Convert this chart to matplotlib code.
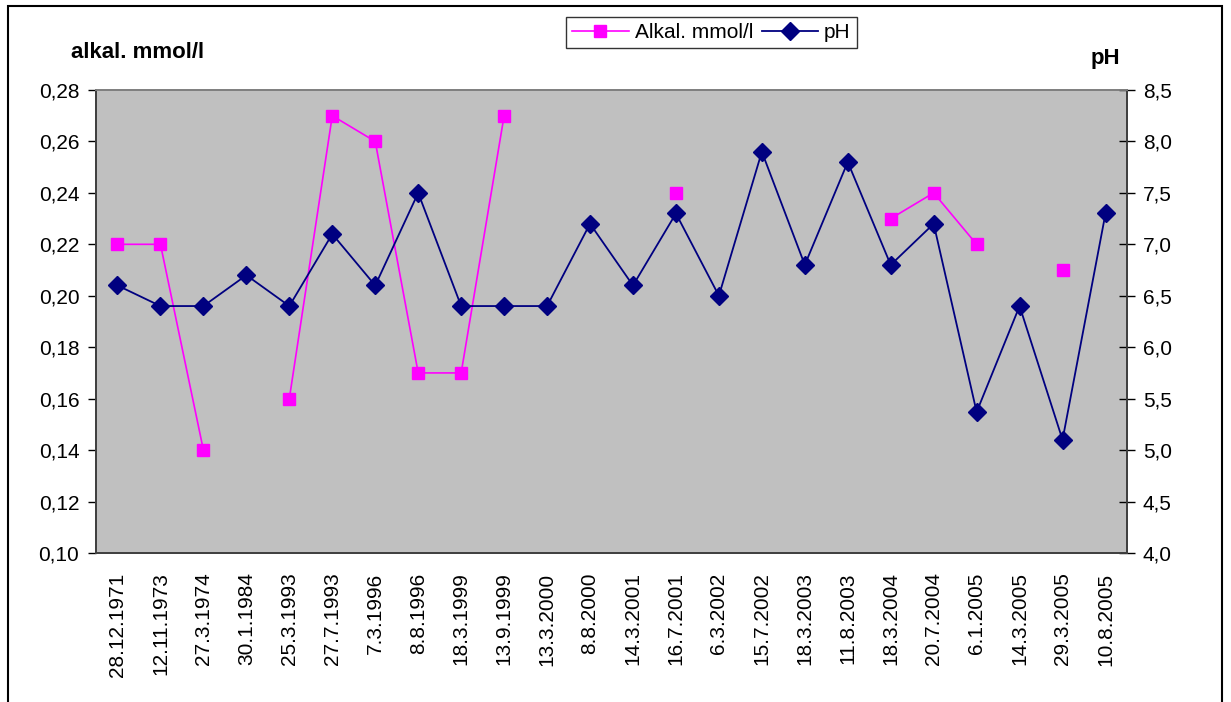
import matplotlib
matplotlib.use("Agg")
import matplotlib.pyplot as plt
import numpy as np
from matplotlib.patches import Rectangle
from matplotlib.ticker import FuncFormatter, MultipleLocator

plt.rcParams['font.family'] = ['Liberation Sans', 'DejaVu Sans']

dates = ["28.12.1971", "12.11.1973", "27.3.1974", "30.1.1984", "25.3.1993", "27.7.1993",
         "7.3.1996", "8.8.1996", "18.3.1999", "13.9.1999", "13.3.2000", "8.8.2000",
         "14.3.2001", "16.7.2001", "6.3.2002", "15.7.2002", "18.3.2003", "11.8.2003",
         "18.3.2004", "20.7.2004", "6.1.2005", "14.3.2005", "29.3.2005", "10.8.2005"]
nan = np.nan
alkal = [0.22, 0.22, 0.14, nan, 0.16, 0.27, 0.26, 0.17, 0.17, 0.27, nan, nan,
         nan, 0.24, nan, nan, nan, nan, 0.23, 0.24, 0.22, nan, 0.21, nan]
ph = [6.6, 6.4, 6.4, 6.7, 6.4, 7.1, 6.6, 7.5, 6.4, 6.4, 6.4, 7.2,
      6.6, 7.3, 6.5, 7.9, 6.8, 7.8, 6.8, 7.2, 5.37, 6.4, 5.1, 7.3]

fig = plt.figure(figsize=(12.31, 7.02), dpi=100)
ax = fig.add_axes([0.078, 0.2123, 0.8375, 0.6595])
ax.set_facecolor('#C0C0C0')
x = np.arange(len(dates))

l1, = ax.plot(x, alkal, color='#FF00FF', lw=1.2, marker='s', markersize=8.5,
              markeredgecolor='#FF00FF', label='Alkal. mmol/l')
ax.set_ylim(0.10, 0.28)
ax.set_xlim(-0.5, len(dates) - 0.5)
ax.yaxis.set_major_locator(MultipleLocator(0.02))
ax.yaxis.set_major_formatter(FuncFormatter(lambda v, p: f"{v:.2f}".replace('.', ',')))
ax.set_xticks(x)
ax.set_xticklabels(dates, rotation=90, fontsize=15)
ax.tick_params(axis='x', length=0, pad=14)
ax.tick_params(axis='y', direction='out', length=6, width=1, labelsize=15, pad=6)

ax2 = ax.twinx()
l2, = ax2.plot(x, ph, color='#000080', lw=1.3, marker='D', markersize=9,
               markeredgecolor='#000080', label='pH')
ax2.set_ylim(4.0, 8.5)
ax2.yaxis.set_major_locator(MultipleLocator(0.5))
ax2.yaxis.set_major_formatter(FuncFormatter(lambda v, p: f"{v:.1f}".replace('.', ',')))
ax2.tick_params(axis='y', direction='inout', length=11, width=1, labelsize=15, pad=6)

for a in (ax, ax2):
    for s in ('left', 'right', 'bottom'):
        a.spines[s].set_color('#404040')
        a.spines[s].set_linewidth(1.3)
    a.spines['top'].set_color('#808080')
    a.spines['top'].set_linewidth(1.3)

fig.text(0.058, 0.925, 'alkal. mmol/l', fontsize=16, fontweight='bold', ha='left', va='center')
fig.text(0.898, 0.917, 'pH', fontsize=16, fontweight='bold', ha='center', va='center')

leg = fig.legend(handles=[l1, l2], loc='center', bbox_to_anchor=(0.578, 0.954), ncol=2,
                 fontsize=15, frameon=True, fancybox=False, edgecolor='black',
                 borderpad=0.3, handlelength=2.7, columnspacing=0.4, handletextpad=0.3,
                 borderaxespad=0)
leg.get_frame().set_linewidth(1.0)

fig.patches.append(Rectangle((0.0065, -0.1), 0.9862, 1.0915, transform=fig.transFigure,
                             fill=False, edgecolor='black', linewidth=1.5, clip_on=False))

fig.savefig('out.png', dpi=100, facecolor='white')
